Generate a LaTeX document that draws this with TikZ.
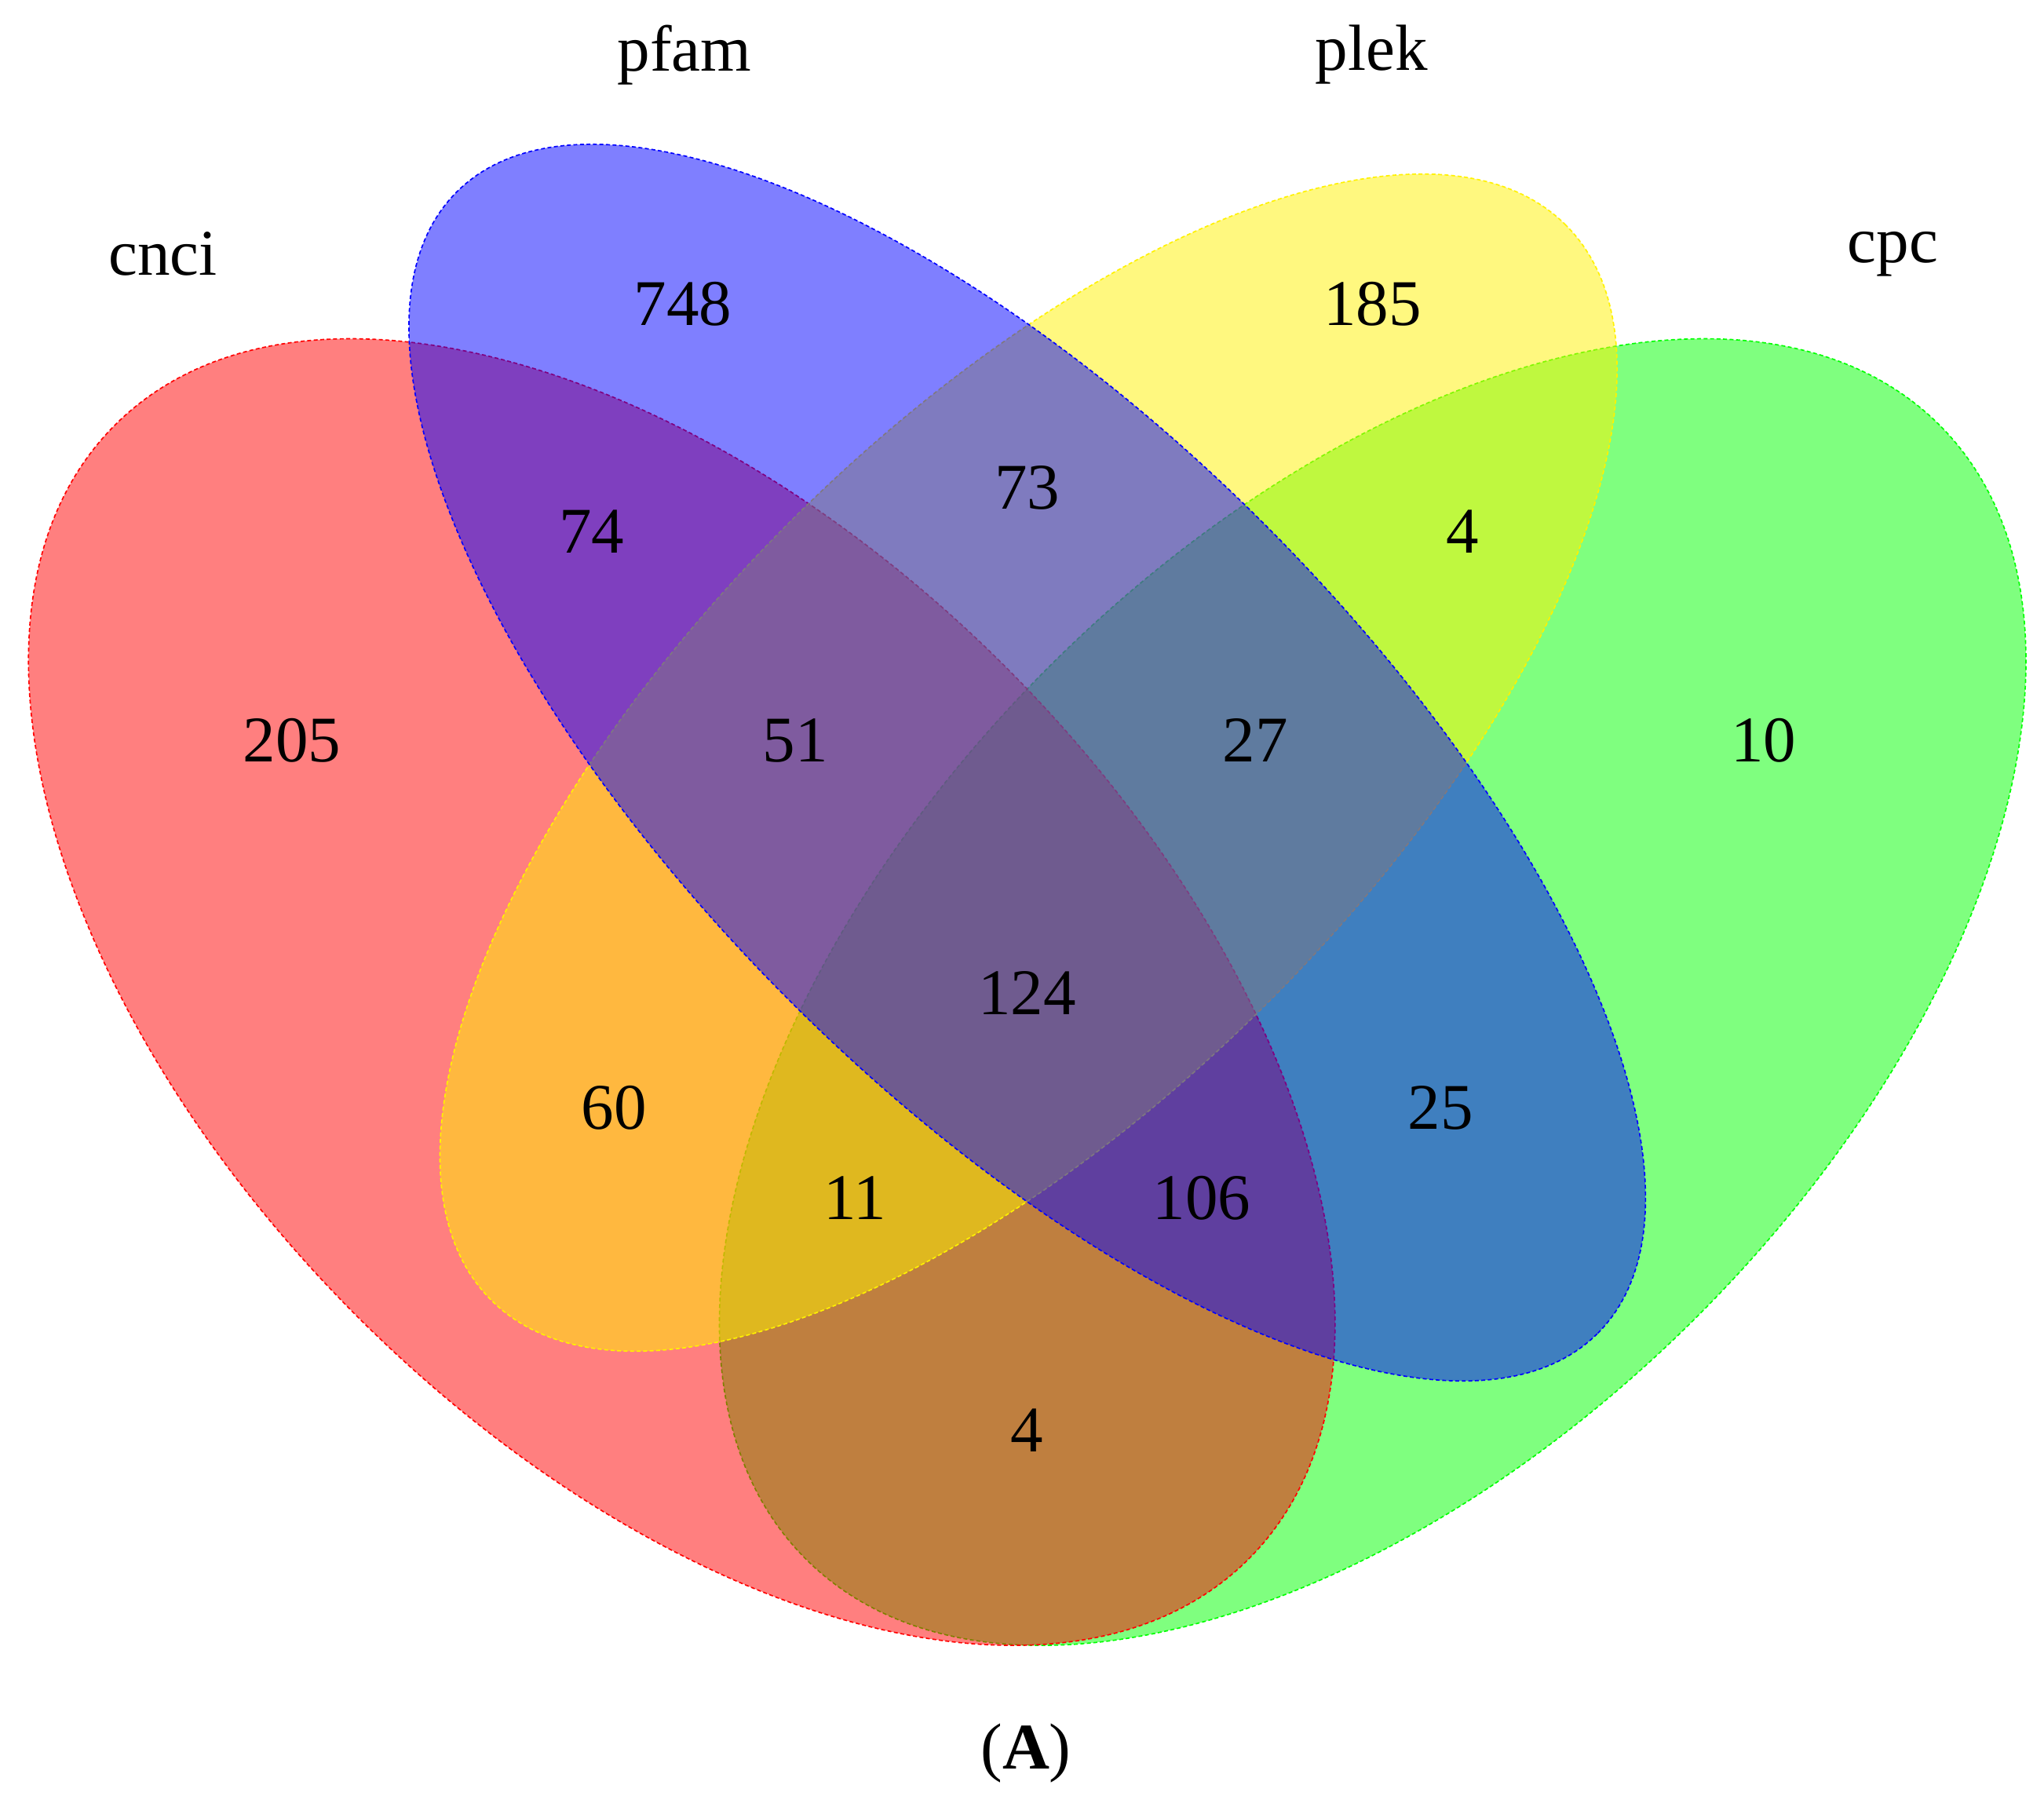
\documentclass[tikz,border=0pt]{standalone}
\usepackage{fontspec}
\setmainfont{Liberation Serif}
\begin{document}
\begin{tikzpicture}[x=1pt,y=-1pt,
  setA/.style={fill opacity=0.5,draw opacity=1,densely dashed,line width=1pt},
  lab/.style={font=\fontsize{50}{60}\selectfont,inner sep=0pt}]
\useasboundingbox[fill=white] (0,0) rectangle (1568,1386);
\draw[setA,draw=green,fill=green] (1053,761) ellipse [x radius=615pt,y radius=352pt,rotate=45];
\draw[setA,draw=red,fill=red] (523,761) ellipse [x radius=615pt,y radius=352pt,rotate=-45];
\draw[setA,draw=yellow,fill=yellow] (789,585) ellipse [x radius=583pt,y radius=260pt,rotate=45];
\draw[setA,draw=blue,fill=blue] (788,585) ellipse [x radius=619pt,y radius=258pt,rotate=-45];
\node[lab] (cnci) at (125,195) {cnci};
\node[lab] (pfam) at (525,42) {pfam};
\node[lab] (plek) at (1052,42) {plek};
\node[lab] (cpc) at (1452,195) {cpc};
\node[lab] (n748) at (524,233) {748};
\node[lab] (n185) at (1053,233) {185};
\node[lab] (n73) at (788,374) {73};
\node[lab] (n74) at (454,408) {74};
\node[lab] (n4a) at (1122,408) {4};
\node[lab] (n205) at (224,568) {205};
\node[lab] (n51) at (610,568) {51};
\node[lab] (n27) at (963,568) {27};
\node[lab] (n10) at (1353,568) {10};
\node[lab] (n124) at (788,762) {124};
\node[lab] (n60) at (471,850) {60};
\node[lab] (n25) at (1105,850) {25};
\node[lab] (n11) at (656,919) {11};
\node[lab] (n106) at (922,919) {106};
\node[lab] (n4b) at (788,1097) {4};
\node[lab] (capA) at (787,1345) {(\textbf{A})};
\end{tikzpicture}
\end{document}
